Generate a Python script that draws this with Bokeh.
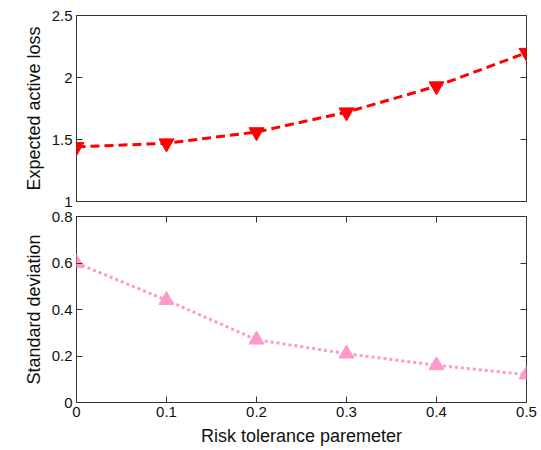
from bokeh.plotting import figure
from bokeh.layouts import column
from bokeh.models import LinearAxis, FixedTicker, Range1d
from bokeh.embed import file_html
from bokeh.resources import INLINE

risk = [0.0, 0.1, 0.2, 0.3, 0.4, 0.5]
expected_loss = [1.44, 1.47, 1.56, 1.72, 1.93, 2.20]
std_dev = [0.60, 0.44, 0.27, 0.21, 0.16, 0.12]

x_ticks = [0, 0.1, 0.2, 0.3, 0.4, 0.5]
x_labels = ["0", "0.1", "0.2", "0.3", "0.4", "0.5"]
top_ticks = [1, 1.5, 2, 2.5]
top_labels = ["1", "1.5", "2", "2.5"]
bot_ticks = [0, 0.2, 0.4, 0.6, 0.8]
bot_labels = ["0", "0.2", "0.4", "0.6", "0.8"]

FONT = "Liberation Sans"
TICK_SIZE = "15px"
LABEL_SIZE = "18px"


def style_axis(ax, ticks, labels=None, show_labels=True):
    ax.ticker = FixedTicker(ticks=ticks)
    ax.major_tick_in = 6
    ax.major_tick_out = 0
    ax.minor_tick_in = 0
    ax.minor_tick_out = 0
    ax.axis_line_color = None
    ax.major_tick_line_color = "#333333"
    ax.major_label_text_font = FONT
    ax.major_label_text_font_size = TICK_SIZE
    ax.major_label_text_color = "#111111"
    ax.axis_label_text_font = FONT
    ax.axis_label_text_font_size = LABEL_SIZE
    ax.axis_label_text_font_style = "normal"
    ax.axis_label_text_color = "#111111"
    if show_labels and labels is not None:
        ax.major_label_overrides = {t: l for t, l in zip(ticks, labels)}
        ax.major_label_standoff = 4
    else:
        ax.major_label_overrides = {t: "" for t in ticks}
        ax.major_label_standoff = 0


# Top panel
p1 = figure(width=541, height=208, frame_width=450, frame_height=186,
            x_range=Range1d(0, 0.5), y_range=Range1d(1, 2.5),
            output_backend="svg", toolbar_location=None,
            x_axis_location=None, y_axis_location="left",
            min_border_left=76, min_border_right=15, min_border_top=15,
            min_border_bottom=7)
p1.grid.visible = False
p1.outline_line_color = "#333333"
p1.outline_line_width = 1
style_axis(p1.yaxis[0], top_ticks, top_labels)
p1.yaxis[0].axis_label = "Expected active loss"
r1 = LinearAxis()
style_axis(r1, top_ticks, show_labels=False)
p1.add_layout(r1, "right")
p1.line(risk, expected_loss, line_color="#FF0000", line_width=3, line_dash="9 5")
p1.scatter(risk, expected_loss, marker="inverted_triangle", size=15,
           fill_color="#FF0000", line_color="#FF0000")

# Bottom panel
p2 = figure(width=541, height=242, frame_width=450, frame_height=186,
            x_range=Range1d(0, 0.5), y_range=Range1d(0, 0.8),
            output_backend="svg", toolbar_location=None,
            min_border_left=76, min_border_right=15, min_border_top=8,
            min_border_bottom=0)
p2.grid.visible = False
p2.outline_line_color = "#333333"
p2.outline_line_width = 1
style_axis(p2.yaxis[0], bot_ticks, bot_labels)
p2.yaxis[0].axis_label = "Standard deviation"
style_axis(p2.xaxis[0], x_ticks, x_labels)
p2.xaxis[0].axis_label = "Risk tolerance paremeter"
p2.xaxis[0].axis_label_standoff = 6
r2 = LinearAxis()
style_axis(r2, bot_ticks, show_labels=False)
p2.add_layout(r2, "right")
t2 = LinearAxis()
style_axis(t2, x_ticks, show_labels=False)
p2.add_layout(t2, "above")
p2.line(risk, std_dev, line_color="#FF99CC", line_width=3, line_dash="3 3")
p2.scatter(risk, std_dev, marker="triangle", size=15,
           fill_color="#FF99CC", line_color="#FF99CC")

layout = column(p1, p2, spacing=0)
open("out.html", "w").write(file_html(layout, INLINE))
